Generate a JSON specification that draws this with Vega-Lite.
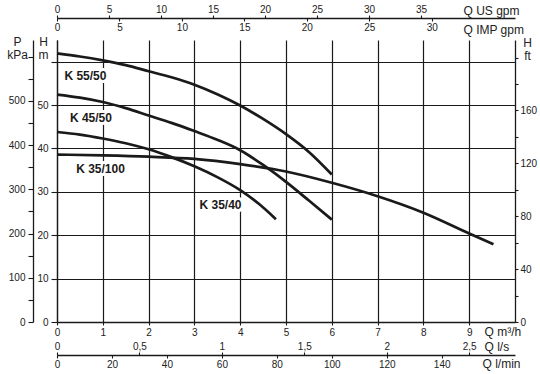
{
  "$schema": "https://vega.github.io/schema/vega-lite/v6.json",
  "width": 458,
  "height": 282,
  "autosize": {"type": "none"},
  "padding": {"left": 57, "top": 40, "right": 25, "bottom": 52},
  "background": "white",
  "config": {
    "view": {"stroke": null},
    "axis": {
      "labelFont": "Liberation Sans",
      "titleFont": "Liberation Sans",
      "labelFontSize": 10,
      "titleFontSize": 12,
      "titleFontWeight": "normal",
      "labelColor": "#222",
      "titleColor": "#222",
      "domainColor": "#1a1a1a",
      "domainWidth": 1.3,
      "tickColor": "#1a1a1a",
      "tickWidth": 1.1,
      "gridColor": "#1a1a1a",
      "gridOpacity": 1,
      "gridWidth": 1.2,
      "labelFlush": false,
      "labelOverlap": false,
      "titleAngle": 0,
      "titleBaseline": "middle"
    }
  },
  "datasets": {
    "curves": [
      {"pump": "K 55/50", "Q": 0, "H": 61.9},
      {"pump": "K 55/50", "Q": 0.5, "H": 61.2},
      {"pump": "K 55/50", "Q": 1, "H": 60.3},
      {"pump": "K 55/50", "Q": 1.5, "H": 59.2},
      {"pump": "K 55/50", "Q": 2, "H": 57.8},
      {"pump": "K 55/50", "Q": 2.5, "H": 56.4},
      {"pump": "K 55/50", "Q": 3, "H": 54.7},
      {"pump": "K 55/50", "Q": 3.5, "H": 52.5},
      {"pump": "K 55/50", "Q": 4, "H": 49.9},
      {"pump": "K 55/50", "Q": 4.5, "H": 46.8},
      {"pump": "K 55/50", "Q": 5, "H": 43.3},
      {"pump": "K 55/50", "Q": 5.5, "H": 39.2},
      {"pump": "K 55/50", "Q": 6, "H": 34.0},
      {"pump": "K 45/50", "Q": 0, "H": 52.4},
      {"pump": "K 45/50", "Q": 0.5, "H": 51.7},
      {"pump": "K 45/50", "Q": 1, "H": 50.7},
      {"pump": "K 45/50", "Q": 1.5, "H": 49.3},
      {"pump": "K 45/50", "Q": 2, "H": 47.6},
      {"pump": "K 45/50", "Q": 2.5, "H": 45.9},
      {"pump": "K 45/50", "Q": 3, "H": 44.0},
      {"pump": "K 45/50", "Q": 3.5, "H": 42.0},
      {"pump": "K 45/50", "Q": 4, "H": 39.6},
      {"pump": "K 45/50", "Q": 4.5, "H": 36.2},
      {"pump": "K 45/50", "Q": 5, "H": 32.3},
      {"pump": "K 45/50", "Q": 5.5, "H": 28.0},
      {"pump": "K 45/50", "Q": 6, "H": 23.6},
      {"pump": "K 35/40", "Q": 0, "H": 43.8},
      {"pump": "K 35/40", "Q": 0.5, "H": 43.2},
      {"pump": "K 35/40", "Q": 1, "H": 42.3},
      {"pump": "K 35/40", "Q": 1.5, "H": 41.2},
      {"pump": "K 35/40", "Q": 2, "H": 39.8},
      {"pump": "K 35/40", "Q": 2.5, "H": 38.0},
      {"pump": "K 35/40", "Q": 3, "H": 35.9},
      {"pump": "K 35/40", "Q": 3.5, "H": 33.4},
      {"pump": "K 35/40", "Q": 4, "H": 30.4},
      {"pump": "K 35/40", "Q": 4.4, "H": 27.3},
      {"pump": "K 35/40", "Q": 4.78, "H": 23.7},
      {"pump": "K 35/100", "Q": 0, "H": 38.6},
      {"pump": "K 35/100", "Q": 1, "H": 38.4},
      {"pump": "K 35/100", "Q": 2, "H": 38.1},
      {"pump": "K 35/100", "Q": 3, "H": 37.6},
      {"pump": "K 35/100", "Q": 4, "H": 36.4},
      {"pump": "K 35/100", "Q": 5, "H": 34.7},
      {"pump": "K 35/100", "Q": 6, "H": 32.1},
      {"pump": "K 35/100", "Q": 7, "H": 29.0},
      {"pump": "K 35/100", "Q": 8, "H": 25.2},
      {"pump": "K 35/100", "Q": 9, "H": 20.4},
      {"pump": "K 35/100", "Q": 9.53, "H": 17.9}
    ],
    "labels": [
      {"pump": "K 55/50", "Q": 0.62, "H": 56.6},
      {"pump": "K 45/50", "Q": 0.74, "H": 47.0},
      {"pump": "K 35/100", "Q": 0.95, "H": 35.2},
      {"pump": "K 35/40", "Q": 3.57, "H": 26.9}
    ],
    "units": [
      {"kPa": 0, "ft": 0, "usgpm": 0, "impgpm": 0, "ls": 0, "lmin": 0}
    ]
  },
  "layer": [
    {
      "layer": [
        {
          "data": {"name": "curves"},
          "mark": {"type": "line", "interpolate": "monotone", "strokeWidth": 2.7, "color": "#1a1a1a"},
          "encoding": {
            "x": {
              "field": "Q", "type": "quantitative",
              "scale": {"domain": [0, 10], "nice": false},
              "axis": {
                "orient": "bottom",
                "values": [0, 1, 2, 3, 4, 5, 6, 7, 8, 9],
                "grid": true,
                "tickSize": 3,
                "labelPadding": 2,
                "title": "Q m³/h",
                "titleX": 427,
                "titleY": 9,
                "titleAlign": "left"
              }
            },
            "y": {
              "field": "H", "type": "quantitative",
              "scale": {"domain": [0, 65], "nice": false},
              "axis": {
                "orient": "left",
                "values": [0, 5, 10, 15, 20, 25, 30, 35, 40, 45, 50, 55, 60, 65],
                "labelExpr": "(datum.value % 10 == 0 && datum.value <= 50) ? datum.label : ''",
                "grid": true,
                "tickSize": 6,
                "labelPadding": 3,
                "title": ["H", "m"],
                "titleX": -14,
                "titleY": 1.5,
                "titleAlign": "center",
                "titleLineHeight": 12.5
              }
            },
            "detail": {"field": "pump"}
          }
        },
        {
          "data": {"name": "labels"},
          "mark": {"type": "text", "font": "Liberation Sans", "fontWeight": "bold", "fontSize": 12, "fill": "white", "stroke": "white", "strokeWidth": 6, "strokeJoin": "round"},
          "encoding": {
            "x": {"field": "Q", "type": "quantitative"},
            "y": {"field": "H", "type": "quantitative"},
            "text": {"field": "pump"}
          }
        },
        {
          "data": {"name": "labels"},
          "mark": {"type": "text", "font": "Liberation Sans", "fontWeight": "bold", "fontSize": 12, "fill": "#1a1a1a"},
          "encoding": {
            "x": {"field": "Q", "type": "quantitative"},
            "y": {"field": "H", "type": "quantitative"},
            "text": {"field": "pump"}
          }
        }
      ]
    },
    {
      "data": {"name": "units"},
      "mark": {"type": "point", "opacity": 0},
      "encoding": {
        "y": {
          "field": "kPa", "type": "quantitative",
          "scale": {"domain": [0, 637.65], "nice": false},
          "axis": {
            "orient": "left",
            "offset": 24,
            "values": [0, 50, 100, 150, 200, 250, 300, 350, 400, 450, 500, 550, 600],
            "labelExpr": "(datum.value % 100 == 0 && datum.value <= 500) ? datum.label : ''",
            "grid": false,
            "tickSize": 5,
            "labelPadding": 3,
            "title": ["P", "kPa"],
            "titleX": -16,
            "titleY": 1.5,
            "titleAlign": "center",
            "titleLineHeight": 12.5
          }
        }
      }
    },
    {
      "data": {"name": "units"},
      "mark": {"type": "point", "opacity": 0},
      "encoding": {
        "y": {
          "field": "ft", "type": "quantitative",
          "scale": {"domain": [0, 213.25], "nice": false},
          "axis": {
            "orient": "right",
            "values": [0, 20, 40, 60, 80, 100, 120, 140, 160, 180, 200],
            "labelExpr": "(datum.value % 40 == 0 && datum.value <= 160) ? datum.label : ''",
            "grid": false,
            "tickSize": 3,
            "labelPadding": 2,
            "title": ["H", "ft"],
            "titleX": 12,
            "titleY": 2.5,
            "titleAlign": "center",
            "titleLineHeight": 13
          }
        }
      }
    },
    {
      "data": {"name": "units"},
      "mark": {"type": "point", "opacity": 0},
      "encoding": {
        "x": {
          "field": "usgpm", "type": "quantitative",
          "scale": {"domain": [0, 44.03], "nice": false},
          "axis": {
            "orient": "top",
            "offset": 22,
            "values": [0, 5, 10, 15, 20, 25, 30, 35],
            "grid": false,
            "tickSize": 3,
            "labelPadding": 1,
            "title": "Q US gpm",
            "titleX": 406,
            "titleY": -8,
            "titleAlign": "left"
          }
        }
      }
    },
    {
      "data": {"name": "units"},
      "mark": {"type": "point", "opacity": 0},
      "encoding": {
        "x": {
          "field": "impgpm", "type": "quantitative",
          "scale": {"domain": [0, 36.66], "nice": false},
          "axis": {
            "orient": "bottom",
            "offset": -304,
            "values": [0, 5, 10, 15, 20, 25, 30],
            "grid": false,
            "domain": false,
            "tickSize": 3,
            "labelPadding": 1,
            "title": "Q IMP gpm",
            "titleX": 406,
            "titleY": 11,
            "titleAlign": "left"
          }
        }
      }
    },
    {
      "data": {"name": "units"},
      "mark": {"type": "point", "opacity": 0},
      "encoding": {
        "x": {
          "field": "ls", "type": "quantitative",
          "scale": {"domain": [0, 2.7778], "nice": false},
          "axis": {
            "orient": "top",
            "offset": -315,
            "values": [0, 0.5, 1, 1.5, 2, 2.5],
            "labelExpr": "replace(format(datum.value, '~g'), '.', ',')",
            "grid": false,
            "tickSize": 3,
            "labelPadding": 1,
            "title": "Q l/s",
            "titleX": 427,
            "titleY": -8.5,
            "titleAlign": "left"
          }
        }
      }
    },
    {
      "data": {"name": "units"},
      "mark": {"type": "point", "opacity": 0},
      "encoding": {
        "x": {
          "field": "lmin", "type": "quantitative",
          "scale": {"domain": [0, 166.67], "nice": false},
          "axis": {
            "orient": "bottom",
            "offset": 33,
            "values": [0, 20, 40, 60, 80, 100, 120, 140],
            "grid": false,
            "domain": false,
            "tickSize": 3,
            "labelPadding": 1,
            "title": "Q l/min",
            "titleX": 425,
            "titleY": 8.5,
            "titleAlign": "left"
          }
        }
      }
    }
  ],
  "resolve": {
    "scale": {"x": "independent", "y": "independent"},
    "axis": {"x": "independent", "y": "independent"}
  }
}
